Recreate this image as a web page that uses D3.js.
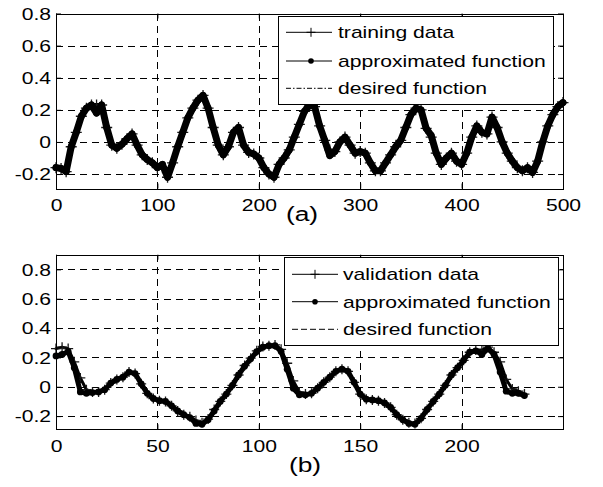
<!DOCTYPE html>
<html>
<head>
<meta charset="utf-8">
<script src="https://cdn.jsdelivr.net/npm/d3@7"></script>
<style>
  body { margin: 0; background: #fff; }
  svg { display: block; }
  text { font-family: "Liberation Sans", Arial, sans-serif; fill: #000; }
</style>
</head>
<body>
<script>
// ---- Panel (a): training set, one reading every 5 samples (0..500) ----
const stepA = 5;
const trainA = [
  -0.16, -0.165, -0.185, -0.03, 0.06,
  0.16, 0.21, 0.23, 0.23, 0.23,
  0.09, -0.02, -0.04, -0.015, 0.02,
  0.05, -0.02, -0.08, -0.11, -0.13,
  -0.16, -0.16, -0.22, -0.13, -0.03,
  0.06, 0.15, 0.21, 0.26, 0.29,
  0.21, 0.09, -0.02, -0.08, -0.03,
  0.06, 0.09, -0.02, -0.065, -0.075,
  -0.1, -0.16, -0.2, -0.22, -0.14,
  -0.1, -0.05, 0.03, 0.11, 0.19,
  0.23, 0.22, 0.1, 0.01, -0.05,
  -0.06, 0.0, 0.03, -0.02, -0.07,
  -0.06, -0.07, -0.13, -0.18, -0.18,
  -0.13, -0.08, -0.03, 0.01, 0.09,
  0.17, 0.21, 0.2, 0.085, 0.03,
  -0.07, -0.14, -0.1, -0.07, -0.12,
  -0.14, -0.07, 0.03, 0.1, 0.06,
  0.05, 0.155, 0.09, 0.0, -0.07,
  -0.12, -0.16, -0.18, -0.16, -0.19,
  -0.12, 0.0, 0.1, 0.17, 0.22,
  0.245
];
const approxA = [
  -0.16, -0.165, -0.185, -0.03, 0.06,
  0.16, 0.21, 0.23, 0.18, 0.23,
  0.09, -0.02, -0.04, -0.015, 0.02,
  0.05, -0.02, -0.08, -0.11, -0.13,
  -0.16, -0.14, -0.22, -0.13, -0.03,
  0.06, 0.15, 0.21, 0.26, 0.29,
  0.21, 0.09, -0.02, -0.08, -0.03,
  0.06, 0.09, -0.02, -0.065, -0.075,
  -0.1, -0.16, -0.2, -0.22, -0.14,
  -0.1, -0.05, 0.03, 0.11, 0.19,
  0.23, 0.22, 0.1, 0.01, -0.085,
  -0.06, 0.0, 0.03, -0.02, -0.07,
  -0.06, -0.07, -0.13, -0.18, -0.18,
  -0.13, -0.08, -0.03, 0.01, 0.09,
  0.17, 0.21, 0.2, 0.085, 0.04,
  -0.07, -0.14, -0.1, -0.07, -0.12,
  -0.14, -0.07, 0.03, 0.1, 0.06,
  0.05, 0.155, 0.09, 0.0, -0.07,
  -0.12, -0.16, -0.18, -0.16, -0.19,
  -0.12, 0.0, 0.1, 0.17, 0.22,
  0.245
];
// the desired function runs through the training samples
const desiredA = trainA;

// ---- Panel (b): validation set, one reading every 3 samples (0..231) ----
const stepB = 3;
const validB = [
  0.26, 0.27, 0.26, 0.17, 0.06,
  -0.02, -0.035, -0.035, -0.02, 0.025,
  0.05, 0.065, 0.1, 0.09, 0.02,
  -0.045, -0.08, -0.095, -0.1, -0.13,
  -0.165, -0.19, -0.205, -0.23, -0.245,
  -0.22, -0.155, -0.1, -0.05, 0.01,
  0.08, 0.145, 0.195, 0.245, 0.275,
  0.28, 0.285, 0.255, 0.16, 0.04,
  -0.035, -0.05, -0.045, -0.01, 0.03,
  0.065, 0.105, 0.12, 0.105, 0.03,
  -0.05, -0.085, -0.09, -0.095, -0.11,
  -0.14, -0.19, -0.225, -0.245, -0.25,
  -0.215, -0.155, -0.1, -0.05, 0.01,
  0.08, 0.13, 0.18, 0.235, 0.25,
  0.25, 0.27, 0.235, 0.17, 0.05,
  -0.015, -0.03, -0.05
];
const approxB = [
  0.21, 0.22, 0.24, 0.13, -0.035,
  -0.045, -0.04, -0.035, -0.02, 0.025,
  0.05, 0.065, 0.1, 0.09, 0.02,
  -0.045, -0.08, -0.095, -0.1, -0.13,
  -0.165, -0.19, -0.21, -0.25, -0.255,
  -0.225, -0.165, -0.1, -0.05, 0.01,
  0.08, 0.14, 0.19, 0.24, 0.27,
  0.28, 0.28, 0.24, 0.12, -0.01,
  -0.055, -0.055, -0.045, -0.01, 0.03,
  0.065, 0.105, 0.12, 0.105, 0.03,
  -0.05, -0.085, -0.09, -0.095, -0.11,
  -0.14, -0.19, -0.225, -0.25, -0.255,
  -0.215, -0.155, -0.1, -0.05, 0.01,
  0.08, 0.13, 0.18, 0.235, 0.245,
  0.22, 0.26, 0.22, 0.1, -0.03,
  -0.045, -0.045, -0.06
];
const desiredB = validB;

// ---- tick labels ----
const yTicks = [-0.2, 0, 0.2, 0.4, 0.6, 0.8];
const xTicksA = [0, 100, 200, 300, 400, 500];
const xTicksB = [0, 50, 100, 150, 200];
const legendA = ["training data", "approximated function", "desired function"];
const legendB = ["validation data", "approximated function", "desired function"];

// ---------------------------------------------------------------
const W = 603, H = 487;
const SX = 1.32;          // horizontal stretch of all lettering
const FONT = 16;

const svg = d3.select("body").append("svg")
  .attr("width", W).attr("height", H);
svg.append("rect").attr("width", W).attr("height", H).attr("fill", "#fff");

const fmt = d => d === 0 ? "0" : d.toFixed(1);

function plusPath(pts, x, y, s) {
  return pts.map(p => {
    const px = x(p[0]), py = y(p[1]);
    return `M${px - s},${py}H${px + s}M${px},${py - s}V${py + s}`;
  }).join("");
}

function panel(cfg) {
  const g = svg.append("g");
  const x = d3.scaleLinear().domain(cfg.xDomain).range([56, 563]);
  const y = d3.scaleLinear().domain(cfg.yDomain).range([cfg.bottom, cfg.top]);
  const L = 56, R = 563, T = cfg.top, B = cfg.bottom;

  // dashed grid
  const grid = g.append("g").attr("stroke", "#000").attr("stroke-width", 1)
    .attr("stroke-dasharray", "7,5").attr("shape-rendering", "crispEdges");
  grid.selectAll(".gx").data(cfg.xTicks.filter(v => v > cfg.xDomain[0] && v < cfg.xDomain[1]))
    .join("line").attr("x1", d => Math.round(x(d)) + 0.5).attr("x2", d => Math.round(x(d)) + 0.5)
    .attr("y1", T).attr("y2", B);
  grid.selectAll(".gy").data(yTicks.filter(v => y(v) > T + 1 && y(v) < B - 1))
    .join("line").attr("y1", d => Math.round(y(d)) + 0.5).attr("y2", d => Math.round(y(d)) + 0.5)
    .attr("x1", L).attr("x2", R);

  // series
  const ptsD = cfg.desired.map((v, i) => [i * cfg.step, v]);
  const ptsT = cfg.data.map((v, i) => [i * cfg.step, v]);
  const ptsP = cfg.approx.map((v, i) => [i * cfg.step, v]);
  const line = d3.line().x(d => x(d[0])).y(d => y(d[1]));

  // measured samples: line with "+" markers
  g.append("path").attr("d", line(ptsT)).attr("fill", "none")
    .attr("stroke", "#000").attr("stroke-width", cfg.dataWidth)
    .attr("stroke-linejoin", "round").attr("stroke-linecap", "round");
  g.append("path").attr("d", plusPath(ptsT, x, y, cfg.plus)).attr("fill", "none")
    .attr("stroke", "#1a1a1a").attr("stroke-width", 1.3);
  // approximation: densely dotted line
  g.append("path").attr("d", line(ptsP)).attr("fill", "none")
    .attr("stroke", "#000").attr("stroke-width", cfg.approxWidth)
    .attr("stroke-linejoin", "round").attr("stroke-linecap", "round");
  g.append("g").selectAll("circle").data(ptsP).join("circle")
    .attr("cx", d => x(d[0])).attr("cy", d => y(d[1])).attr("r", 3.4).attr("fill", "#000");
  g.append("path").attr("d", line(ptsD)).attr("fill", "none")
    .attr("stroke", "#000").attr("stroke-width", 1).attr("stroke-dasharray", cfg.desiredDash);

  // axes: ticks pointing inward on all four sides
  const ax = g.append("g");
  const left = ax.append("g").attr("transform", `translate(${L},0)`)
    .call(d3.axisLeft(y).tickValues(yTicks).tickFormat(fmt).tickSizeInner(-5).tickSizeOuter(0));
  ax.append("g").attr("transform", `translate(${R},0)`)
    .call(d3.axisRight(y).tickValues(yTicks).tickFormat("").tickSizeInner(-5).tickSizeOuter(0));
  const bottom = ax.append("g").attr("transform", `translate(0,${B})`)
    .call(d3.axisBottom(x).tickValues(cfg.xTicks).tickFormat(d3.format("d")).tickSizeInner(-5).tickSizeOuter(0));
  ax.append("g").attr("transform", `translate(0,${T})`)
    .call(d3.axisTop(x).tickValues(cfg.xTicks).tickFormat("").tickSizeInner(-5).tickSizeOuter(0));
  ax.selectAll(".domain").remove();
  ax.selectAll("g").attr("font-size", null).attr("font-family", null);
  ax.selectAll(".tick line").attr("stroke", "#000");
  ax.selectAll("text").attr("fill", "#000").attr("font-size", FONT);
  left.selectAll("text").attr("x", -5 / SX).attr("dy", "0.36em")
    .attr("transform", `scale(${SX},1)`);
  bottom.selectAll("text").attr("y", 11).attr("dy", "0.72em")
    .attr("transform", `scale(${SX},1)`);

  // frame
  g.append("rect").attr("x", L + 0.5).attr("y", Math.round(T) + 0.5)
    .attr("width", R - L).attr("height", Math.round(B) - Math.round(T))
    .attr("fill", "none").attr("stroke", "#000").attr("stroke-width", 1)
    .attr("shape-rendering", "crispEdges");

  // legend
  const lg = cfg.legend;
  const leg = g.append("g");
  leg.append("rect").attr("x", lg.x0 + 0.5).attr("y", lg.y0 + 0.5)
    .attr("width", lg.x1 - lg.x0).attr("height", lg.y1 - lg.y0)
    .attr("fill", "#fff").attr("stroke", "#000").attr("stroke-width", 1)
    .attr("shape-rendering", "crispEdges");
  lg.rows.forEach((ry, i) => {
    const dash = i === 2 ? cfg.desiredDash : null;
    leg.append("line").attr("x1", lg.s0).attr("x2", lg.s1).attr("y1", ry).attr("y2", ry)
      .attr("stroke", "#000").attr("stroke-width", 1).attr("stroke-dasharray", dash);
    if (i === 0) {
      leg.append("path").attr("d", `M${lg.mx - 4.5},${ry}H${lg.mx + 4.5}M${lg.mx},${ry - 4.5}V${ry + 4.5}`)
        .attr("stroke", "#000").attr("stroke-width", 1);
    } else if (i === 1) {
      leg.append("circle").attr("cx", lg.mx).attr("cy", ry).attr("r", 2.8).attr("fill", "#000");
    }
    leg.append("text").attr("transform", `translate(${lg.tx},${ry + 6}) scale(${SX},1)`)
      .attr("font-size", FONT).text(cfg.labels[i]);
  });

  // caption
  g.append("text").attr("transform", `translate(${cfg.capX},${cfg.capY}) scale(${SX},1)`)
    .attr("text-anchor", "middle").attr("font-size", 20).text(cfg.caption);
}

panel({
  xDomain: [0, 500], yDomain: [-0.29, 0.8], top: 13.5, bottom: 188.5,
  xTicks: xTicksA, step: stepA, approxWidth: 7, dataWidth: 4, plus: 5.5,
  data: trainA, approx: approxA, desired: desiredA, desiredDash: "5,2,1.5,2",
  labels: legendA,
  legend: { x0: 278, x1: 553, y0: 16, y1: 104, rows: [32.3, 61, 88.3], s0: 286, s1: 332, mx: 311, tx: 338 },
  caption: "(a)", capX: 302, capY: 221
});

panel({
  xDomain: [0, 250], yDomain: [-0.29, 0.9], top: 254.7, bottom: 429.3,
  xTicks: xTicksB, step: stepB, approxWidth: 5, dataWidth: 3, plus: 5,
  data: validB, approx: approxB, desired: desiredB, desiredDash: "6,3",
  labels: legendB,
  legend: { x0: 284, x1: 558, y0: 257, y1: 345, rows: [274.3, 301.7, 329.3], s0: 292, s1: 338, mx: 315, tx: 343 },
  caption: "(b)", capX: 305, capY: 472
});
</script>
</body>
</html>
